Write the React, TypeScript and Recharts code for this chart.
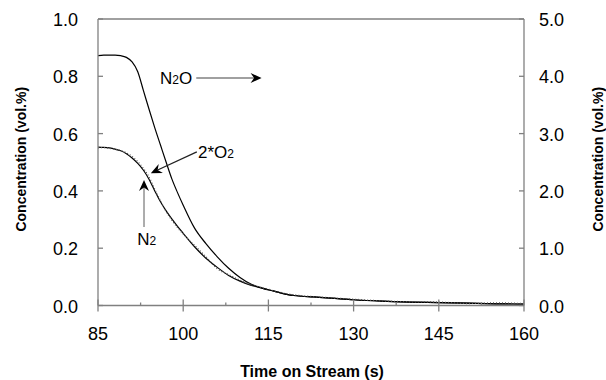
import React from 'react';
import { LineChart, Line, XAxis, YAxis, ReferenceLine, ReferenceDot } from 'recharts';

// ---- data ----
const times = [85, 86, 87, 88, 89, 90, 91, 92, 93, 94, 95, 96, 97, 98, 99, 100, 102, 104, 106, 108, 110, 112, 114, 116, 118, 120, 123, 126, 130, 135, 140, 145, 150, 155, 160];

// N2O on the right axis (vol.%)
const n2oValues = [4.36, 4.37, 4.37, 4.37, 4.36, 4.33, 4.25, 4.08, 3.75, 3.42, 3.10, 2.80, 2.50, 2.21, 1.97, 1.75, 1.35, 1.08, 0.85, 0.65, 0.49, 0.37, 0.30, 0.25, 0.20, 0.17, 0.15, 0.13, 0.10, 0.075, 0.06, 0.05, 0.04, 0.03, 0.025];

// N2 on the left axis (vol.%)
const n2Values = [0.553, 0.552, 0.550, 0.546, 0.540, 0.530, 0.515, 0.496, 0.472, 0.440, 0.400, 0.362, 0.330, 0.302, 0.276, 0.252, 0.205, 0.165, 0.133, 0.105, 0.085, 0.070, 0.060, 0.050, 0.040, 0.034, 0.030, 0.026, 0.020, 0.015, 0.012, 0.010, 0.008, 0.006, 0.005];

// 2*O2 on the left axis (vol.%)
const o2x2Values = [0.550, 0.551, 0.549, 0.545, 0.541, 0.533, 0.520, 0.502, 0.478, 0.448, 0.405, 0.365, 0.328, 0.298, 0.272, 0.250, 0.210, 0.170, 0.128, 0.108, 0.088, 0.072, 0.062, 0.051, 0.042, 0.036, 0.031, 0.027, 0.022, 0.016, 0.013, 0.012, 0.007, 0.009, 0.007];

const xTicks = [85, 92.5, 100, 107.5, 115, 122.5, 130, 137.5, 145, 152.5, 160];
const xMajorStep = 15;
const leftTicks = [0, 0.2, 0.4, 0.6, 0.8, 1.0];
const rightTicks = [0, 1, 2, 3, 4, 5];

const leftTitle = 'Concentration (vol.%)';
const rightTitle = 'Concentration (vol.%)';
const xTitle = 'Time on Stream (s)';

// annotation anchors (data coordinates, left axis)
const n2oLabel = { x: 95.9, y: 0.773 };
const n2oArrow = [{ x: 102.3, y: 0.794 }, { x: 113.8, y: 0.794 }];
const o2Label = { x: 102.6, y: 0.515 };
const o2Arrow = [{ x: 102.4, y: 0.536 }, { x: 94.3, y: 0.462 }];
const n2Label = { x: 91.9, y: 0.211 };
const n2Arrow = [{ x: 93.1, y: 0.274 }, { x: 93.1, y: 0.438 }];

const data = times.map((t, i) => ({ t, n2o: n2oValues[i], n2: n2Values[i], o2: o2x2Values[i] }));

const FONT = 'Arial, "Liberation Sans", sans-serif';
const AXIS = '#808080';

const XTick = (props: any) => {
  const { x, y, payload } = props;
  const major = Math.abs(((payload.value - 85) % xMajorStep)) < 1e-6;
  return (
    <g>
      {major ? (
        <line x1={x} y1={y - 6} x2={x} y2={y + 6} stroke={AXIS} strokeWidth={1.3} />
      ) : (
        <line x1={x} y1={y - 3} x2={x} y2={y} stroke={AXIS} strokeWidth={1.3} />
      )}
      {major && (
        <text x={x} y={y + 34.5} textAnchor="middle" fontFamily={FONT} fontSize={18} fill="#000">
          {payload.value}
        </text>
      )}
    </g>
  );
};

const LeftTick = (props: any) => {
  const { x, y, payload } = props;
  return (
    <g>
      <line x1={x} y1={y} x2={x + 5} y2={y} stroke={AXIS} strokeWidth={1.3} />
      <text x={x - 20} y={y + 7} textAnchor="end" fontFamily={FONT} fontSize={18} fill="#000">
        {Number(payload.value).toFixed(1)}
      </text>
    </g>
  );
};

const RightTick = (props: any) => {
  const { x, y, payload } = props;
  return (
    <g>
      <line x1={x - 5} y1={y} x2={x} y2={y} stroke={AXIS} strokeWidth={1.3} />
      <text x={x + 15} y={y + 7} textAnchor="start" fontFamily={FONT} fontSize={18} fill="#000">
        {Number(payload.value).toFixed(1)}
      </text>
    </g>
  );
};

const makeArrow = (lineColor: string) => (p: any) => {
  const { x1, y1, x2, y2 } = p;
  const dx = x2 - x1;
  const dy = y2 - y1;
  const len = Math.sqrt(dx * dx + dy * dy) || 1;
  const ux = dx / len;
  const uy = dy / len;
  const hl = 11;
  const hw = 5;
  const bx = x2 - ux * hl;
  const by = y2 - uy * hl;
  const nx = bx + ux * 3.5;
  const ny = by + uy * 3.5;
  const pts = `${x2},${y2} ${bx - uy * hw},${by + ux * hw} ${nx},${ny} ${bx + uy * hw},${by - ux * hw}`;
  return (
    <g>
      <line x1={x1} y1={y1} x2={nx} y2={ny} stroke={lineColor} strokeWidth={1.3} />
      <polygon points={pts} fill="#000" stroke="none" />
    </g>
  );
};

const makeLabel = (main: string, sub: string, tail: string) => (p: any) => (
  <text x={p.cx} y={p.cy} fontFamily={FONT} fontSize={17} fill="#000">
    <tspan>{main}</tspan>
    <tspan fontSize={12}>{sub}</tspan>
    {tail ? <tspan>{tail}</tspan> : null}
  </text>
);

const LeftTitle = (p: any) => {
  const vb = p.viewBox;
  const cx = vb.x + 21;
  const cy = vb.y + vb.height / 2 - 3;
  return (
    <text x={cx} y={cy} transform={`rotate(-90 ${cx} ${cy})`} textAnchor="middle" dominantBaseline="central"
      fontFamily={FONT} fontSize={14} fontWeight="bold" fill="#000">{leftTitle}</text>
  );
};

const RightTitle = (p: any) => {
  const vb = p.viewBox;
  const cx = vb.x + 74;
  const cy = vb.y + vb.height / 2 - 3;
  return (
    <text x={cx} y={cy} transform={`rotate(-90 ${cx} ${cy})`} textAnchor="middle" dominantBaseline="central"
      fontFamily={FONT} fontSize={14} fontWeight="bold" fill="#000">{rightTitle}</text>
  );
};

const XTitle = (p: any) => {
  const vb = p.viewBox;
  return (
    <text x={vb.x + vb.width / 2 + 1} y={vb.y + 71.5} textAnchor="middle"
      fontFamily={FONT} fontSize={16} fontWeight="bold" fill="#000">{xTitle}</text>
  );
};

export default function App() {
  return (
    <div style={{ position: 'absolute', left: 0, top: 0, width: 606, height: 380, background: '#fff' }}>
      <LineChart width={606} height={380} data={data} margin={{ top: 19, right: 0, bottom: 0, left: 0 }}>
        <XAxis dataKey="t" type="number" domain={[85, 160]} ticks={xTicks} interval={0}
          height={74.5} tickSize={0} tickMargin={0} tickLine={false}
          axisLine={{ stroke: AXIS, strokeWidth: 1.3 }} tick={<XTick />} label={<XTitle />} />
        <YAxis yAxisId="left" domain={[0, 1]} ticks={leftTicks} interval={0} width={98}
          tickSize={0} tickMargin={0} tickLine={false}
          axisLine={{ stroke: AXIS, strokeWidth: 1.3 }} tick={<LeftTick />} label={<LeftTitle />} />
        <YAxis yAxisId="right" orientation="right" domain={[0, 5]} ticks={rightTicks} interval={0} width={82}
          tickSize={0} tickMargin={0} tickLine={false}
          axisLine={{ stroke: AXIS, strokeWidth: 1.3 }} tick={<RightTick />} label={<RightTitle />} />
        <ReferenceLine yAxisId="left" y={1} stroke={AXIS} strokeWidth={1.3} />
        <Line yAxisId="right" dataKey="n2o" type="monotone" stroke="#000" strokeWidth={1.2} dot={false} isAnimationActive={false} />
        <Line yAxisId="left" dataKey="n2" type="monotone" stroke="#000" strokeWidth={1.2} dot={false} isAnimationActive={false} />
        <Line yAxisId="left" dataKey="o2" type="monotone" stroke="#555" strokeWidth={1.3} strokeDasharray="1 2" dot={false} isAnimationActive={false} />
        <ReferenceLine yAxisId="left" segment={n2oArrow} shape={makeArrow(AXIS)} ifOverflow="visible" />
        <ReferenceLine yAxisId="left" segment={o2Arrow} shape={makeArrow('#222')} ifOverflow="visible" />
        <ReferenceLine yAxisId="left" segment={n2Arrow} shape={makeArrow(AXIS)} ifOverflow="visible" />
        <ReferenceDot yAxisId="left" x={n2oLabel.x} y={n2oLabel.y} r={0} ifOverflow="visible" shape={makeLabel('N', '2', 'O')} />
        <ReferenceDot yAxisId="left" x={o2Label.x} y={o2Label.y} r={0} ifOverflow="visible" shape={makeLabel('2*O', '2', '')} />
        <ReferenceDot yAxisId="left" x={n2Label.x} y={n2Label.y} r={0} ifOverflow="visible" shape={makeLabel('N', '2', '')} />
      </LineChart>
    </div>
  );
}
